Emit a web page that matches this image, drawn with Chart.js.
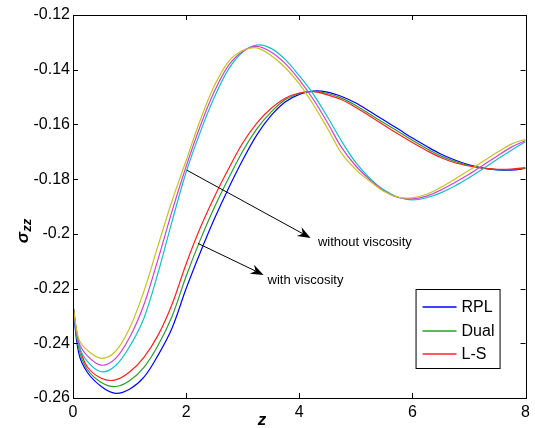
<!DOCTYPE html>
<html>
<head>
<meta charset="utf-8">
<script src="https://cdn.jsdelivr.net/npm/chart.js@4.4.0/dist/chart.umd.min.js"></script>
<style>
  html, body { margin: 0; padding: 0; background: #fff; }
  canvas { display: block; }
</style>
</head>
<body>
<canvas id="chart" width="535" height="428"></canvas>
<script>
const zValues = [0, 0.1, 0.25, 0.5, 0.75, 1, 1.25, 1.5, 1.75, 2, 2.25, 2.5, 2.75, 3, 3.25, 3.5, 3.75, 4,
    4.25, 4.5, 4.75, 5, 5.25, 5.5, 5.75, 6, 6.25, 6.5, 6.75, 7, 7.25, 7.5, 7.75, 8];

// with viscosity
const rplVisc = [-0.226, -0.2435, -0.2505, -0.2558, -0.2583, -0.2568, -0.2525, -0.2445, -0.2345, -0.2200,
    -0.2068, -0.1945, -0.1833, -0.1730, -0.1638, -0.1568, -0.1518, -0.1490, -0.1478, -0.1482, -0.1498,
    -0.1522, -0.1553, -0.1585, -0.1617, -0.1650, -0.1680, -0.1708, -0.1730, -0.1748, -0.1760, -0.1766,
    -0.1767, -0.1761];
const dualVisc = [-0.226, -0.2418, -0.2495, -0.2543, -0.2558, -0.2537, -0.2489, -0.2409, -0.2302, -0.2155,
    -0.2022, -0.1903, -0.1797, -0.1698, -0.1616, -0.1555, -0.1510, -0.1487, -0.1479, -0.1487, -0.1504,
    -0.1531, -0.1563, -0.1595, -0.1626, -0.1658, -0.1688, -0.1715, -0.1735, -0.1750, -0.1760, -0.1765,
    -0.1765, -0.1760];
const lsVisc = [-0.226, -0.2400, -0.2485, -0.2528, -0.2534, -0.2505, -0.2452, -0.2372, -0.2258, -0.2110,
    -0.1978, -0.1864, -0.1762, -0.1668, -0.1595, -0.1542, -0.1504, -0.1485, -0.1480, -0.1492, -0.1510,
    -0.1538, -0.1570, -0.1603, -0.1635, -0.1666, -0.1695, -0.1721, -0.1740, -0.1752, -0.1760, -0.1764,
    -0.1763, -0.1758];

// without viscosity
const rplNoVisc = [-0.226, -0.2405, -0.2465, -0.2504, -0.2482, -0.2412, -0.2310, -0.2145, -0.1955, -0.1775,
    -0.1628, -0.1500, -0.1398, -0.1335, -0.1310, -0.1322, -0.1362, -0.1422, -0.1490, -0.1573, -0.1662,
    -0.1740, -0.1797, -0.1840, -0.1866, -0.1876, -0.1868, -0.1850, -0.1825, -0.1795, -0.1762, -0.1727,
    -0.1694, -0.1663];
const dualNoVisc = [-0.226, -0.2394, -0.2445, -0.2480, -0.2456, -0.2379, -0.2261, -0.2095, -0.1918, -0.1754,
    -0.1606, -0.1479, -0.1384, -0.1333, -0.1315, -0.1335, -0.1377, -0.1437, -0.1509, -0.1594, -0.1685,
    -0.1752, -0.1802, -0.1843, -0.1867, -0.1872, -0.1862, -0.1840, -0.1812, -0.1782, -0.1749, -0.1715,
    -0.1683, -0.1659];
const lsNoVisc = [-0.226, -0.2383, -0.2425, -0.2455, -0.2430, -0.2345, -0.2212, -0.2045, -0.1880, -0.1732,
    -0.1584, -0.1458, -0.1370, -0.1330, -0.1320, -0.1348, -0.1392, -0.1452, -0.1528, -0.1615, -0.1706,
    -0.1765, -0.1808, -0.1845, -0.1866, -0.1868, -0.1855, -0.1830, -0.1800, -0.1768, -0.1735, -0.1702,
    -0.1672, -0.1654];

const xTicks = [0, 2, 4, 6, 8];
const yTicks = [-0.26, -0.24, -0.22, -0.2, -0.18, -0.16, -0.14, -0.12];
const legendNames = ['RPL', 'Dual', 'L-S'];

const FONT = "'Liberation Sans', Arial, sans-serif";

const series = [
    { data: rplVisc, color: '#0000ff', label: 'RPL', legend: true },
    { data: dualVisc, color: '#2e9a2e', label: 'Dual', legend: true },
    { data: lsVisc, color: '#ff2020', label: 'L-S', legend: true },
    { data: rplNoVisc, color: '#10c0c8', label: 'RPL (no viscosity)', legend: false },
    { data: dualNoVisc, color: '#d040d0', label: 'Dual (no viscosity)', legend: false },
    { data: lsNoVisc, color: '#c8c020', label: 'L-S (no viscosity)', legend: false },
];

const toPoints = (ys) => zValues.map((z, i) => ({ x: z, y: ys[i] }));

// box, inward ticks
const framePlugin = {
    id: 'frame',
    afterDatasetsDraw(chart) {
        const { ctx, chartArea: a, scales: { x, y } } = chart;
        ctx.save();
        ctx.strokeStyle = '#000';
        ctx.lineWidth = 1;
        ctx.strokeRect(Math.round(a.left) + 0.5, Math.round(a.top) + 0.5,
            Math.round(a.right - a.left), Math.round(a.bottom - a.top));
        ctx.beginPath();
        xTicks.forEach(v => {
            const px = Math.round(x.getPixelForValue(v)) + 0.5;
            ctx.moveTo(px, a.bottom); ctx.lineTo(px, a.bottom - 5);
            ctx.moveTo(px, a.top); ctx.lineTo(px, a.top + 5);
        });
        yTicks.forEach(v => {
            const py = Math.round(y.getPixelForValue(v)) + 0.5;
            ctx.moveTo(a.left, py); ctx.lineTo(a.left + 5, py);
            ctx.moveTo(a.right, py); ctx.lineTo(a.right - 5, py);
        });
        ctx.stroke();
        ctx.restore();
    }
};

// arrows + text labels inside the axes
const arrow = (ctx, x0, y0, x1, y1) => {
    const ang = Math.atan2(y1 - y0, x1 - x0);
    const len = 13, half = 5, back = 9;
    ctx.beginPath();
    ctx.moveTo(x0, y0);
    ctx.lineTo(x1 - Math.cos(ang) * back, y1 - Math.sin(ang) * back);
    ctx.stroke();
    ctx.save();
    ctx.translate(x1, y1);
    ctx.rotate(ang);
    ctx.beginPath();
    ctx.moveTo(0, 0);
    ctx.lineTo(-len, -half);
    ctx.lineTo(-back, 0);
    ctx.lineTo(-len, half);
    ctx.closePath();
    ctx.fill();
    ctx.restore();
};

const annotationPlugin = {
    id: 'notes',
    afterDraw(chart) {
        const { ctx, scales: { x, y } } = chart;
        const X = v => x.getPixelForValue(v), Y = v => y.getPixelForValue(v);
        ctx.save();
        ctx.strokeStyle = '#000';
        ctx.fillStyle = '#000';
        ctx.lineWidth = 1;
        arrow(ctx, X(2.01), Y(-0.1767), X(4.20), Y(-0.2015));
        arrow(ctx, X(2.21), Y(-0.2035), X(3.37), Y(-0.2150));
        ctx.font = `13px ${FONT}`;
        ctx.textBaseline = 'middle';
        ctx.textAlign = 'left';
        ctx.fillText('without viscosity', X(4.33), Y(-0.2030));
        ctx.fillText('with viscosity', X(3.44), Y(-0.2172));

        // axis titles
        ctx.save();
        ctx.translate(22, 231);
        ctx.rotate(-Math.PI / 2);
        ctx.textAlign = 'left';
        ctx.textBaseline = 'alphabetic';
        ctx.font = `bold italic 17px ${FONT}`;
        const sw = ctx.measureText('\u03c3').width;
        ctx.font = `bold italic 13px ${FONT}`;
        const zw = ctx.measureText('zz').width;
        const start = -(sw + zw) / 2;
        ctx.font = `bold italic 17px ${FONT}`;
        ctx.fillText('\u03c3', start, 6);
        ctx.font = `bold italic 13px ${FONT}`;
        ctx.fillText('zz', start + sw, 9);
        ctx.restore();

        ctx.font = `bold italic 17px ${FONT}`;
        ctx.textAlign = 'center';
        ctx.textBaseline = 'middle';
        ctx.fillText('z', 262, 420);
        ctx.restore();
    }
};

const legendPlugin = {
    id: 'boxLegend',
    afterDraw(chart) {
        const { ctx, chartArea: a } = chart;
        const items = series.filter(s => s.legend && legendNames.includes(s.label));
        const left = a.right - 110, top = a.top + 274, w = 84, h = 79;
        ctx.save();
        ctx.fillStyle = '#fff';
        ctx.fillRect(left, top, w, h);
        ctx.strokeStyle = '#000';
        ctx.lineWidth = 1;
        ctx.strokeRect(left + 0.5, top + 0.5, w, h);
        ctx.font = `16px ${FONT}`;
        ctx.textBaseline = 'middle';
        ctx.textAlign = 'left';
        items.forEach((s, i) => {
            const cy = Math.round(top + 18 + i * 23.5);
            ctx.strokeStyle = s.color;
            ctx.lineWidth = 1.6;
            ctx.beginPath();
            ctx.moveTo(left + 7, cy);
            ctx.lineTo(left + 41, cy);
            ctx.stroke();
            ctx.fillStyle = '#000';
            ctx.fillText(s.label, left + 46, cy + 0.5);
        });
        ctx.restore();
    }
};

new Chart(document.getElementById('chart'), {
    type: 'line',
    data: {
        datasets: series.map((s, i) => ({
            label: s.label,
            data: toPoints(s.data),
            borderColor: s.color,
            backgroundColor: s.color,
            borderWidth: 1.2,
            pointRadius: 0,
            fill: false,
            tension: 0.35,
            order: series.length - i,
        }))
    },
    options: {
        responsive: false,
        animation: false,
        events: [],
        layout: { padding: { left: 0, top: 15, right: 9, bottom: 0 } },
        plugins: { legend: { display: false }, tooltip: { enabled: false } },
        scales: {
            x: {
                type: 'linear',
                min: 0,
                max: 8,
                grid: { display: false, drawTicks: false },
                border: { display: false },
                afterBuildTicks: (scale) => { scale.ticks = xTicks.map(v => ({ value: v })); },
                afterFit: (scale) => { scale.height = 30; },
                ticks: {
                    padding: 5,
                    color: '#000',
                    font: { family: FONT, size: 16 },
                    maxRotation: 0,
                    callback: (v) => String(v),
                },
            },
            y: {
                type: 'linear',
                min: -0.26,
                max: -0.12,
                grid: { display: false, drawTicks: false },
                border: { display: false },
                afterBuildTicks: (scale) => { scale.ticks = yTicks.map(v => ({ value: v })); },
                afterFit: (scale) => { scale.width = 73; },
                ticks: {
                    padding: 3,
                    color: '#000',
                    font: { family: FONT, size: 16 },
                    callback: (v) => String(Number(v.toFixed(2))),
                },
            },
        },
    },
    plugins: [framePlugin, annotationPlugin, legendPlugin],
});
</script>
</body>
</html>
